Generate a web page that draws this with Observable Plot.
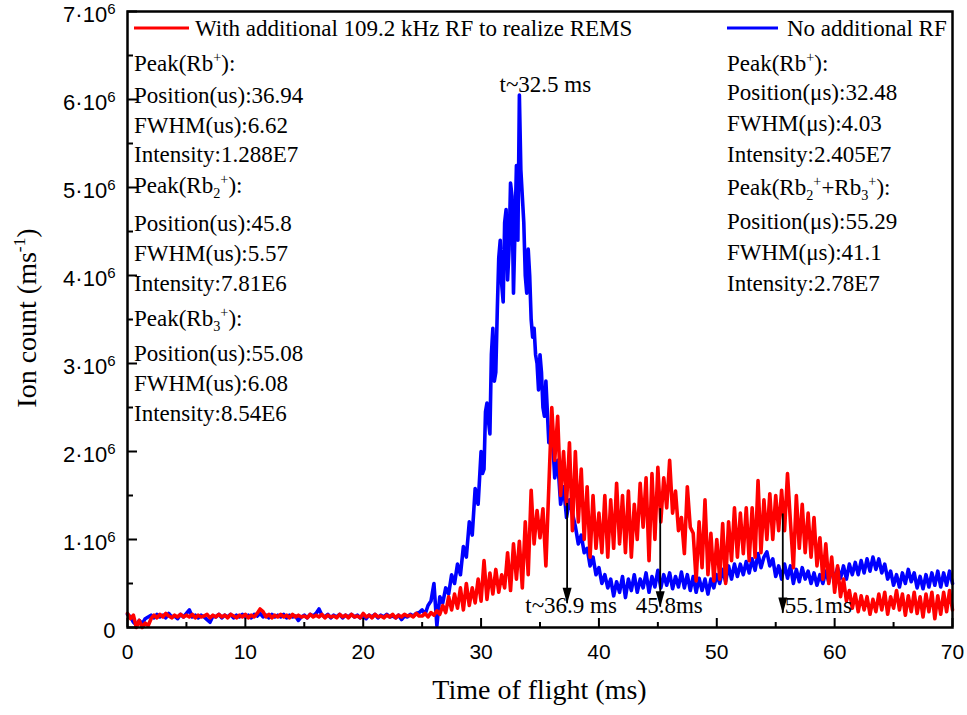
<!DOCTYPE html>
<html><head><meta charset="utf-8">
<script src="https://cdn.jsdelivr.net/npm/d3@7"></script>
<script src="https://cdn.jsdelivr.net/npm/@observablehq/plot@0.6"></script>
<style>body{margin:0;background:#fff} svg{display:block}</style>
</head><body><div id="chart"></div>
<script>
// sampling interval of the traces (ms); first sample at t = 0
const sampleStep = 0.25;

// Ion count, units of 10^6 ms^-1 (one value every 0.25 ms, 0..70 ms)
const blueValues = [
 0.15,0.12,0.06,0.03,0.08,0.04,0.10,0.12,0.14,0.11,0.15,0.12,0.14,0.11,0.16,0.12,0.13,0.10,0.15,0.12,
 0.16,0.20,0.12,0.14,0.11,0.14,0.12,0.09,0.06,0.13,0.12,0.15,0.11,0.14,0.12,0.15,0.11,0.14,0.12,0.15,
 0.12,0.14,0.11,0.15,0.13,0.16,0.12,0.14,0.11,0.15,0.12,0.14,0.12,0.15,0.11,0.14,0.12,0.13,0.08,0.12,
 0.14,0.11,0.15,0.13,0.16,0.21,0.14,0.12,0.15,0.11,0.14,0.12,0.15,0.11,0.14,0.12,0.15,0.12,0.14,0.11,
 0.13,0.10,0.14,0.12,0.15,0.11,0.14,0.12,0.15,0.12,0.13,0.11,0.14,0.09,0.13,0.12,0.15,0.13,0.16,0.17,
 0.20,0.15,0.25,0.30,0.50,0.02,0.35,0.28,0.45,0.38,0.60,0.50,0.72,0.60,0.92,0.80,1.20,1.05,1.58,1.40,
 2.00,1.80,2.55,2.20,3.40,2.90,4.20,3.90,4.60,3.95,5.05,3.80,5.25,6.05,4.90,4.00,4.30,3.50,3.40,3.00,
 3.10,2.50,2.80,2.10,2.30,1.70,1.90,1.40,1.60,1.25,1.45,1.30,1.15,0.95,1.05,0.85,0.90,0.70,0.80,0.60,
 0.68,0.50,0.60,0.45,0.55,0.36,0.52,0.40,0.58,0.34,0.55,0.42,0.60,0.40,0.55,0.45,0.62,0.40,0.58,0.46,
 0.65,0.45,0.60,0.48,0.62,0.44,0.58,0.46,0.63,0.45,0.60,0.42,0.58,0.40,0.56,0.42,0.55,0.38,0.55,0.45,
 0.60,0.50,0.66,0.52,0.70,0.55,0.72,0.58,0.72,0.60,0.75,0.62,0.78,0.65,0.84,0.68,0.80,0.86,0.70,0.78,
 0.58,0.70,0.55,0.72,0.56,0.70,0.50,0.66,0.52,0.68,0.55,0.64,0.50,0.62,0.48,0.60,0.50,0.64,0.52,0.66,
 0.55,0.68,0.56,0.70,0.55,0.72,0.60,0.74,0.60,0.76,0.62,0.78,0.64,0.80,0.66,0.78,0.62,0.72,0.55,0.64,
 0.48,0.60,0.46,0.62,0.50,0.66,0.52,0.62,0.45,0.58,0.44,0.60,0.46,0.62,0.48,0.64,0.46,0.62,0.48,0.64,
 0.50
];
// extra blue samples inside the main peak, at 30.125, 30.375, ... 35.375 ms
const bluePeakStart = 30.125;
const bluePeakValues = [
 1.75,2.45,2.35,3.10,2.80,3.60,4.40,3.70,4.75,4.30,4.90,4.50,4.40,5.20,4.60,3.80,4.00,3.30,3.10,2.70,2.90,2.40
];
const redValues = [
 0.16,0.10,0.14,0.00,0.08,0.00,0.05,0.02,0.10,0.14,0.11,0.15,0.12,0.16,0.13,0.11,0.14,0.12,0.15,0.12,
 0.14,0.12,0.15,0.11,0.14,0.12,0.13,0.15,0.11,0.14,0.12,0.15,0.12,0.14,0.11,0.15,0.13,0.11,0.14,0.12,
 0.15,0.11,0.14,0.12,0.16,0.21,0.18,0.12,0.15,0.11,0.14,0.12,0.15,0.12,0.14,0.11,0.15,0.12,0.14,0.12,
 0.13,0.11,0.15,0.12,0.14,0.12,0.15,0.11,0.14,0.12,0.13,0.11,0.15,0.12,0.14,0.11,0.15,0.12,0.13,0.11,
 0.16,0.12,0.14,0.11,0.15,0.12,0.13,0.11,0.14,0.12,0.15,0.11,0.14,0.12,0.15,0.13,0.14,0.12,0.16,0.13,
 0.13,0.16,0.12,0.17,0.14,0.19,0.15,0.25,0.17,0.35,0.20,0.38,0.22,0.45,0.20,0.50,0.25,0.45,0.28,0.55,
 0.30,0.76,0.32,0.62,0.38,0.66,0.40,0.60,0.45,0.85,0.42,0.95,0.55,0.98,0.45,1.20,0.60,1.56,0.95,1.33,
 1.02,1.35,0.70,1.60,2.50,1.90,2.40,1.50,2.00,1.40,2.10,1.10,2.00,1.20,1.80,1.00,1.60,0.80,1.50,0.90,
 1.30,0.85,1.50,0.80,1.45,0.90,1.64,0.95,1.50,0.85,1.55,0.80,1.40,1.00,1.64,1.14,1.70,0.76,1.75,1.00,
 1.82,1.20,1.70,1.36,1.90,1.30,1.55,1.10,1.25,0.84,1.60,1.14,1.07,0.53,1.20,0.68,1.45,0.60,1.07,0.53,
 1.00,0.55,1.18,0.50,1.20,0.76,1.36,0.80,1.30,0.84,1.36,0.76,1.36,0.80,1.67,0.85,1.45,1.00,1.52,1.00,
 1.50,1.10,1.56,1.10,1.75,1.20,0.68,1.50,0.90,1.40,0.85,1.30,0.80,1.25,0.70,1.02,0.55,0.95,0.50,0.80,
 0.40,0.70,0.35,0.55,0.30,0.42,0.22,0.38,0.18,0.36,0.20,0.35,0.15,0.32,0.18,0.38,0.20,0.40,0.15,0.35,
 0.22,0.42,0.20,0.38,0.14,0.36,0.18,0.40,0.16,0.35,0.12,0.38,0.18,0.40,0.10,0.36,0.15,0.40,0.18,0.42,
 0.20
];

const seriesNames = ["With additional 109.2 kHz RF to realize REMS", "No additional RF"];
const seriesColors = ["#ff0000", "#0000ff"];

const xMajorTicks = [0, 10, 20, 30, 40, 50, 60, 70];
const xMinorTicks = [5, 15, 25, 35, 45, 55, 65];
const yMajorTicks = [0, 1e6, 2e6, 3e6, 4e6, 5e6, 6e6, 7e6];
const yMinorTicks = [0.5e6, 1.5e6, 2.5e6, 3.5e6, 4.5e6, 5.5e6, 6.5e6];

const xTitle = "Time of flight (ms)";
const yTitle = "Ion count (ms^{-1})";

// peak arrows (time in ms, arrow top and tip in ion count)
const arrowTimes = [37.3, 45.2, 55.6];
const arrowTops = [1.41e6, 1.35e6, 1.29e6];
const arrowTips = [0.27e6, 0.23e6, 0.16e6];
const arrowLabels = ["t~36.9 ms", "45.8ms", "55.1ms"];
const spikeLabel = "t~32.5 ms";

const leftNotes = [
 "Peak(Rb^{+}):", "Position(us):36.94", "FWHM(us):6.62", "Intensity:1.288E7",
 "Peak(Rb_{2}^{+}):", "Position(us):45.8", "FWHM(us):5.57", "Intensity:7.81E6",
 "Peak(Rb_{3}^{+}):", "Position(us):55.08", "FWHM(us):6.08", "Intensity:8.54E6"
];
const rightNotes = [
 "Peak(Rb^{+}):", "Position(μs):32.48", "FWHM(μs):4.03", "Intensity:2.405E7",
 "Peak(Rb_{2}^{+}+Rb_{3}^{+}):", "Position(μs):55.29", "FWHM(μs):41.1", "Intensity:2.78E7"
];

// ---------- build ----------
const W = 967, H = 715, mL = 127, mR = 15, mT = 11, mB = 88;
const plotW = W - mL - mR, plotH = H - mT - mB;
const SERIF = "'Liberation Serif','Times New Roman',Times,serif";
const SANS = "'Liberation Sans',Arial,Helvetica,sans-serif";

const blueRows = blueValues.map((v, i) => ({t: i * sampleStep, y: v * 1e6}))
  .concat(bluePeakValues.map((v, i) => ({t: bluePeakStart + i * sampleStep, y: v * 1e6})))
  .sort((a, b) => a.t - b.t);
const redRows = redValues.map((v, i) => ({t: i * sampleStep, y: v * 1e6}));
const arrows = arrowTimes.map((t, i) => ({t, top: arrowTops[i], tip: arrowTips[i], label: arrowLabels[i]}));
const spikeIndex = d3.maxIndex(blueRows, d => d.y);
const spike = {t: blueRows[spikeIndex].t, y: blueRows[spikeIndex].y, label: spikeLabel};

const arrowHead = {
  draw(ctx) { ctx.moveTo(0, 0); ctx.lineTo(-4.5, -16); ctx.lineTo(4.5, -16); ctx.closePath(); }
};

const svg = Plot.plot({
  width: W, height: H,
  marginLeft: mL, marginRight: mR, marginTop: mT, marginBottom: mB,
  x: {domain: [0, 70]},
  y: {domain: [0, 7e6]},
  style: {background: "#fff", color: "#000"},
  marks: [
    Plot.line(blueRows, {x: "t", y: "y", stroke: seriesColors[1], strokeWidth: 3.6}),
    Plot.line(redRows, {x: "t", y: "y", stroke: seriesColors[0], strokeWidth: 3.6}),
    Plot.tickX(xMajorTicks, {x: d => d, insetTop: plotH - 9, stroke: "#000", strokeWidth: 2}),
    Plot.tickX(xMinorTicks, {x: d => d, insetTop: plotH - 5, stroke: "#000", strokeWidth: 2}),
    Plot.tickY(yMajorTicks, {y: d => d, insetRight: plotW - 10, stroke: "#000", strokeWidth: 2}),
    Plot.tickY(yMinorTicks, {y: d => d, insetRight: plotW - 6, stroke: "#000", strokeWidth: 2}),
    Plot.frame({stroke: "#000", strokeWidth: 2.5}),
    Plot.axisX({ticks: xMajorTicks, tickSize: 0, tickPadding: 17, fontSize: 21, fontFamily: SANS, label: null}),
    Plot.axisY({ticks: yMajorTicks, tickSize: 0, tickPadding: 12, dy: 3, fontSize: 22, fontFamily: SANS, label: null,
      tickFormat: d => d === 0 ? "0" : `${d / 1e6}·10⁶`}),
    Plot.ruleX(arrows, {x: "t", y1: "top", y2: "tip", stroke: "#000", strokeWidth: 1.8}),
    Plot.dot(arrows, {x: "t", y: "tip", symbol: arrowHead, fill: "#000", stroke: "none"}),
    Plot.text(arrows.slice(0, 1), {x: "t", text: "label", frameAnchor: "bottom", dy: -15, dx: 4, fontSize: 23, fontFamily: SERIF}),
    Plot.text(arrows.slice(1, 2), {x: "t", text: "label", frameAnchor: "bottom", dy: -15, dx: 9, fontSize: 23, fontFamily: SERIF}),
    Plot.text(arrows.slice(2, 3), {x: "t", text: "label", frameAnchor: "bottom", dy: -15, dx: 2, textAnchor: "start", fontSize: 23, fontFamily: SERIF}),
    Plot.text([spike], {x: "t", y: "y", text: "label", dx: 26, dy: -10, fontSize: 23, fontFamily: SERIF})
  ]
});

const S = d3.select(svg);
// superscript exponent on y tick labels
S.selectAll('g[aria-label="y-axis tick label"] text').each(function () {
  const s = this.textContent;
  if (s.includes("⁶")) {
    const el = d3.select(this);
    el.text(s.replace("⁶", ""));
    el.append("tspan").attr("dy", -8).attr("font-size", 15).text("6");
  }
});

function rich(sel, str, size) {
  const re = /([_^])\{([^}]*)\}|([^_^]+)/g;
  let m, cur = 0;
  while ((m = re.exec(str))) {
    let target = 0, txt = m[3], fs = size;
    if (m[1]) { txt = m[2]; fs = size * 0.62; target = m[1] === "^" ? -size * 0.38 : size * 0.22; }
    sel.append("tspan").attr("dy", target - cur).attr("font-size", fs).text(txt);
    cur = target;
  }
}
const ann = S.append("g").attr("font-family", SERIF).attr("fill", "#000").attr("text-anchor", "start");
function block(lines, x, ys) {
  lines.forEach((s, i) => {
    const t = ann.append("text").attr("x", x).attr("y", ys[i] + 8).attr("font-size", 23);
    rich(t, s, 23);
  });
}
block(leftNotes, 134, [63, 95, 125, 154, 185, 223, 253, 283, 318, 353, 383, 413]);
block(rightNotes, 727, [63, 92, 123, 154, 187, 221, 252, 283]);

// legend
const lg = S.append("g").attr("font-family", SERIF).attr("font-size", 23).attr("text-anchor", "start");
[[134, 189, 195], [727, 778, 787]].forEach(([x1, x2, tx], i) => {
  lg.append("line").attr("x1", x1).attr("x2", x2).attr("y1", 28).attr("y2", 28)
    .attr("stroke", seriesColors[i]).attr("stroke-width", 3);
  lg.append("text").attr("x", tx).attr("y", 36).text(seriesNames[i]);
});

// axis titles
S.append("text").attr("x", mL + plotW / 2).attr("y", 699).attr("text-anchor", "middle")
  .attr("font-family", SERIF).attr("font-size", 28).text(xTitle);
const yt = S.append("text").attr("transform", "translate(36,318) rotate(-90)").attr("text-anchor", "middle")
  .attr("font-family", SERIF).attr("font-size", 28);
rich(yt, yTitle, 28);

document.getElementById("chart").appendChild(svg);
</script>
</body></html>
